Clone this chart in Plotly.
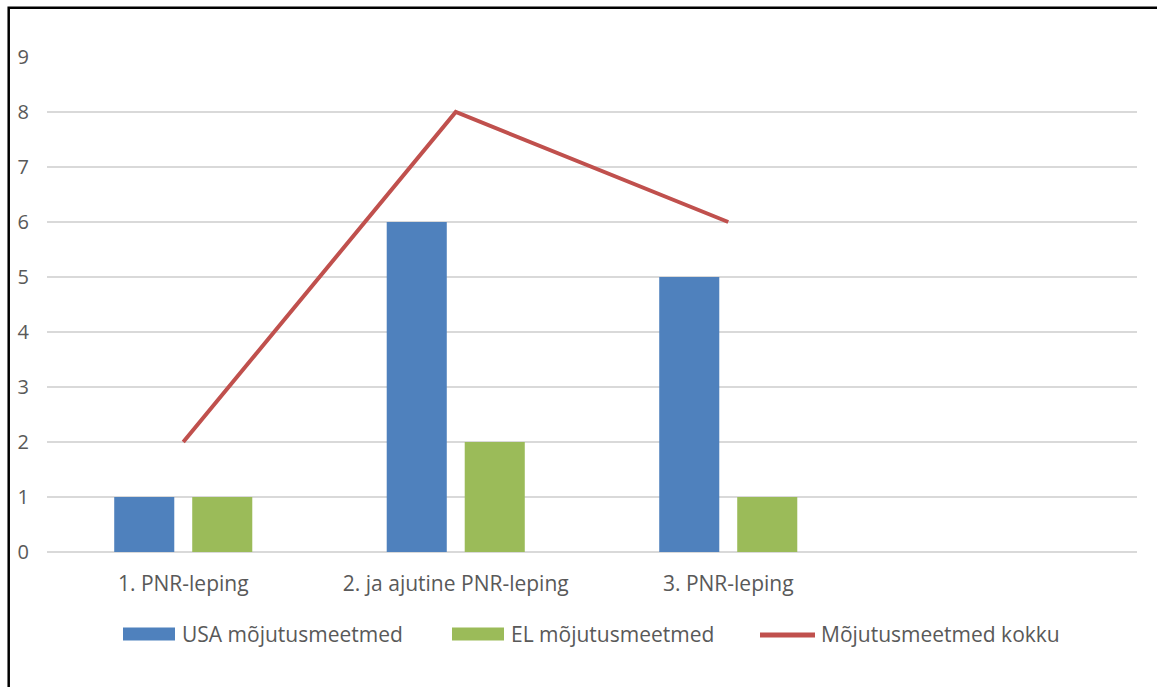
import plotly.graph_objects as go

categories = ["1. PNR-leping", "2. ja ajutine PNR-leping", "3. PNR-leping"]
usa_values = [1, 6, 5]
el_values = [1, 2, 1]
total_values = [2, 8, 6]
y_ticks = [0, 1, 2, 3, 4, 5, 6, 7, 8, 9]
series_names = ["USA mõjutusmeetmed", "EL mõjutusmeetmed", "Mõjutusmeetmed kokku"]

W, H = 1157, 687
L, R, T, B = 47, 1137, 57, 552
FONT = "Open Sans"
TXT = "#595959"
BLUE, GREEN, RED = "#4f81bd", "#9bbb59", "#c0504d"


def px_x(p):
    return (p - L) / (R - L)


def px_y(p):
    return (B - p) / (B - T)


fig = go.Figure()
fig.add_trace(go.Bar(x=categories, y=usa_values, name=series_names[0],
                     marker=dict(color=BLUE, line=dict(width=0)), showlegend=False))
fig.add_trace(go.Bar(x=categories, y=el_values, name=series_names[1],
                     marker=dict(color=GREEN, line=dict(width=0)), showlegend=False))
fig.add_trace(go.Scatter(x=categories, y=total_values, name=series_names[2], mode="lines",
                         line=dict(color=RED, width=4), showlegend=False))

shapes = []
annotations = []
# manual legend
leg_y = 634
items = [
    (series_names[0], "rect", BLUE, 123, 175, 180),
    (series_names[1], "rect", GREEN, 452, 504, 509),
    (series_names[2], "line", RED, 760, 815, 819),
]
for name, kind, col, x0, x1, tx in items:
    if kind == "rect":
        shapes.append(dict(type="rect", xref="paper", yref="paper",
                           x0=px_x(x0), x1=px_x(x1), y0=px_y(leg_y - 6.5), y1=px_y(leg_y + 6.5),
                           fillcolor=col, line=dict(width=0)))
    else:
        shapes.append(dict(type="line", xref="paper", yref="paper",
                           x0=px_x(x0), x1=px_x(x1), y0=px_y(leg_y + 1), y1=px_y(leg_y + 1),
                           line=dict(color=col, width=5)))
    annotations.append(dict(text=name, xref="paper", yref="paper", x=px_x(tx), y=px_y(leg_y),
                            xanchor="left", yanchor="middle", showarrow=False,
                            font=dict(family=FONT, size=21, color=TXT)))

# outer frame (left and top edges visible)
shapes.append(dict(type="rect", xref="paper", yref="paper", layer="above",
                   x0=px_x(8.7), x1=px_x(1180), y0=px_y(7.8), y1=px_y(720),
                   line=dict(color="black", width=2.5), fillcolor="rgba(0,0,0,0)"))

fig.update_layout(
    width=W, height=H,
    margin=dict(l=L, r=W - R, t=T, b=H - B, pad=0),
    paper_bgcolor="white", plot_bgcolor="white",
    barmode="group", bargap=0.4275, bargroupgap=0.23,
    font=dict(family=FONT, size=21, color=TXT),
    shapes=shapes, annotations=annotations,
    xaxis=dict(type="category", categoryorder="array", categoryarray=categories,
               range=[-0.5, 3.5], showgrid=False, zeroline=False, showline=False,
               ticks="", ticklabelstandoff=17,
               tickfont=dict(family=FONT, size=21, color=TXT)),
    yaxis=dict(range=[0, 9], tickvals=y_ticks, showgrid=True, gridcolor="#d9d9d9",
               gridwidth=1.5, zeroline=True, zerolinecolor="#d9d9d9", zerolinewidth=1.5,
               showline=False, ticks="", ticklabelstandoff=17,
               tickfont=dict(family=FONT, size=20, color=TXT)),
)

fig.write_html("out.html")
